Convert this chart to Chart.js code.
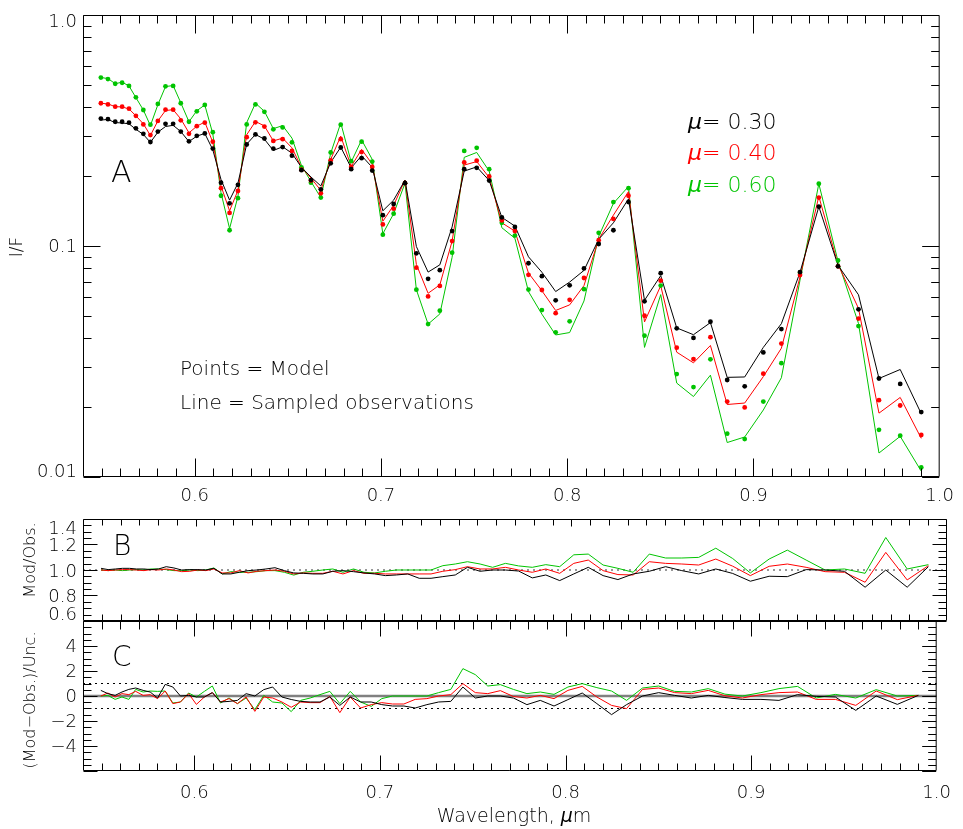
<!DOCTYPE html>
<html>
<head>
<meta charset="utf-8">
<script src="https://cdn.jsdelivr.net/npm/chart.js@4.4.1/dist/chart.umd.min.js"></script>
<style>
  html, body { margin: 0; padding: 0; background: #fff; }
  #wrap { position: relative; width: 963px; height: 829px; overflow: hidden; background: #fff; }
  canvas { position: absolute; left: 0; }
</style>
</head>
<body>
<div id="wrap">
  <canvas id="panelA" width="963" height="520" style="top:0px"></canvas>
  <canvas id="panelB" width="963" height="130" style="top:500px"></canvas>
  <canvas id="panelC" width="963" height="219" style="top:610px"></canvas>
</div>
<script>
// ---- data ----
const wavelength = [0.5496, 0.5534, 0.5573, 0.5610, 0.5647, 0.5684, 0.5724, 0.5762, 0.5802, 0.5843,
  0.5884, 0.5925, 0.5969, 0.6011, 0.6054, 0.6097, 0.6141, 0.6187, 0.6232, 0.6279,
  0.6326, 0.6374, 0.6422, 0.6472, 0.6522, 0.6573, 0.6624, 0.6677, 0.6730, 0.6784,
  0.6840, 0.6896, 0.6953, 0.7010, 0.7068, 0.7129, 0.7190, 0.7253, 0.7316, 0.7382,
  0.7447, 0.7514, 0.7581, 0.7649, 0.7719, 0.7792, 0.7864, 0.7938, 0.8013, 0.8090,
  0.8169, 0.8248, 0.8329, 0.8415, 0.8502, 0.8588, 0.8678, 0.8769, 0.8859, 0.8953,
  0.9053, 0.9150, 0.9250, 0.9351, 0.9454, 0.9564, 0.9674, 0.9788, 0.9901];

// model I/F (points)
const modelMu030 = [0.356, 0.354, 0.345, 0.345, 0.342, 0.323, 0.306, 0.282, 0.313, 0.338,
  0.338, 0.313, 0.284, 0.300, 0.307, 0.264, 0.188, 0.153, 0.184, 0.275,
  0.304, 0.292, 0.264, 0.268, 0.246, 0.213, 0.193, 0.176, 0.228, 0.267,
  0.215, 0.240, 0.212, 0.136, 0.152, 0.187, 0.093, 0.0721, 0.0786, 0.116,
  0.215, 0.218, 0.192, 0.133, 0.121, 0.0842, 0.0740, 0.0582, 0.0676, 0.0800,
  0.102, 0.117, 0.155, 0.0576, 0.0763, 0.0440, 0.0400, 0.0470, 0.0263, 0.0247,
  0.0346, 0.0437, 0.0771, 0.148, 0.0817, 0.0532, 0.0267, 0.0253, 0.0191];
const modelMu040 = [0.415, 0.410, 0.401, 0.401, 0.393, 0.366, 0.336, 0.302, 0.348, 0.389,
  0.389, 0.350, 0.306, 0.330, 0.342, 0.283, 0.178, 0.139, 0.173, 0.296,
  0.343, 0.329, 0.285, 0.290, 0.258, 0.214, 0.192, 0.169, 0.235, 0.290,
  0.220, 0.255, 0.220, 0.124, 0.145, 0.187, 0.0806, 0.0605, 0.0672, 0.105,
  0.230, 0.234, 0.200, 0.129, 0.116, 0.0750, 0.0645, 0.0512, 0.0585, 0.0727,
  0.106, 0.131, 0.165, 0.0499, 0.0708, 0.0363, 0.0324, 0.0403, 0.0212, 0.0200,
  0.0280, 0.0378, 0.0749, 0.162, 0.0817, 0.0485, 0.0215, 0.0204, 0.0152];
const modelMu060 = [0.536, 0.528, 0.504, 0.509, 0.493, 0.440, 0.388, 0.335, 0.412, 0.491,
  0.493, 0.415, 0.345, 0.383, 0.408, 0.311, 0.165, 0.117, 0.161, 0.336,
  0.410, 0.381, 0.320, 0.326, 0.281, 0.219, 0.188, 0.162, 0.254, 0.335,
  0.233, 0.283, 0.232, 0.112, 0.138, 0.187, 0.0647, 0.0459, 0.0525, 0.0936,
  0.258, 0.266, 0.215, 0.126, 0.111, 0.0648, 0.0528, 0.0423, 0.0472, 0.0650,
  0.114, 0.155, 0.178, 0.0409, 0.0674, 0.0279, 0.0245, 0.0323, 0.0154, 0.0146,
  0.0212, 0.0311, 0.0766, 0.186, 0.0866, 0.0450, 0.0160, 0.0151, 0.0110];

// sampled observations I/F (lines)
const obsMu030 = [0.351, 0.353, 0.342, 0.341, 0.338, 0.320, 0.304, 0.281, 0.311, 0.329,
  0.333, 0.313, 0.283, 0.299, 0.307, 0.261, 0.194, 0.158, 0.187, 0.276,
  0.304, 0.290, 0.259, 0.269, 0.252, 0.219, 0.199, 0.182, 0.230, 0.268,
  0.218, 0.246, 0.219, 0.142, 0.158, 0.193, 0.0995, 0.0771, 0.0829, 0.121,
  0.211, 0.220, 0.192, 0.133, 0.122, 0.0898, 0.0770, 0.0635, 0.0698, 0.0784,
  0.107, 0.126, 0.160, 0.0582, 0.0744, 0.0442, 0.0413, 0.0466, 0.0270, 0.0271,
  0.0364, 0.0461, 0.0769, 0.148, 0.0825, 0.0615, 0.0267, 0.0292, 0.0188];
const obsMu040 = [0.415, 0.412, 0.401, 0.400, 0.392, 0.366, 0.338, 0.301, 0.348, 0.386,
  0.389, 0.355, 0.309, 0.330, 0.344, 0.281, 0.182, 0.142, 0.174, 0.303,
  0.346, 0.331, 0.285, 0.293, 0.266, 0.219, 0.197, 0.174, 0.237, 0.299,
  0.221, 0.262, 0.226, 0.128, 0.150, 0.193, 0.0832, 0.0624, 0.0679, 0.105,
  0.224, 0.232, 0.198, 0.126, 0.116, 0.0764, 0.0640, 0.0526, 0.0556, 0.0674,
  0.107, 0.136, 0.172, 0.0469, 0.0673, 0.0347, 0.0312, 0.0371, 0.0206, 0.0209,
  0.0272, 0.0361, 0.0734, 0.164, 0.0832, 0.0537, 0.0189, 0.0221, 0.0147];
const obsMu060 = [0.536, 0.531, 0.504, 0.512, 0.493, 0.439, 0.388, 0.332, 0.409, 0.490,
  0.495, 0.417, 0.345, 0.385, 0.408, 0.306, 0.170, 0.119, 0.164, 0.342,
  0.415, 0.383, 0.322, 0.332, 0.293, 0.223, 0.190, 0.162, 0.252, 0.341,
  0.231, 0.288, 0.237, 0.113, 0.138, 0.187, 0.0647, 0.0459, 0.0508, 0.0894,
  0.242, 0.254, 0.211, 0.120, 0.108, 0.0635, 0.0507, 0.0412, 0.0422, 0.0578,
  0.110, 0.153, 0.181, 0.0364, 0.0616, 0.0255, 0.0223, 0.0276, 0.0141, 0.0149,
  0.0195, 0.0269, 0.0711, 0.186, 0.0859, 0.0462, 0.0127, 0.0150, 0.0106];

// panel B : Mod/Obs.
const ratioMu030 = [1.013, 1.003, 1.008, 1.013, 1.013, 1.008, 1.008, 1.003, 1.008, 1.026,
  1.016, 1.000, 1.003, 1.003, 1.000, 1.013, 0.969, 0.969, 0.982, 0.995,
  1.000, 1.008, 1.018, 0.995, 0.977, 0.974, 0.969, 0.969, 0.990, 0.995,
  0.987, 0.977, 0.969, 0.956, 0.961, 0.969, 0.935, 0.935, 0.948, 0.961,
  1.021, 0.990, 1.000, 1.000, 0.992, 0.938, 0.961, 0.917, 0.969, 1.021,
  0.956, 0.925, 0.969, 0.990, 1.026, 0.995, 0.969, 1.008, 0.973, 0.912,
  0.951, 0.948, 1.003, 1.000, 0.990, 0.865, 1.000, 0.865, 1.026];
const ratioMu040 = [1.000, 0.995, 1.000, 1.003, 1.003, 1.000, 0.995, 1.003, 1.000, 1.008,
  1.000, 0.987, 0.990, 1.000, 0.995, 1.008, 0.977, 0.977, 0.995, 0.977,
  0.990, 0.995, 1.000, 0.990, 0.969, 0.977, 0.974, 0.974, 0.990, 0.969,
  0.995, 0.974, 0.974, 0.969, 0.969, 0.969, 0.969, 0.969, 0.990, 1.003,
  1.026, 1.008, 1.008, 1.021, 1.000, 0.982, 1.008, 0.974, 1.052, 1.078,
  0.995, 0.964, 0.961, 1.065, 1.052, 1.047, 1.039, 1.086, 1.030, 0.956,
  1.029, 1.047, 1.021, 0.987, 0.982, 0.904, 1.138, 0.922, 1.034];
const ratioMu060 = [1.000, 0.995, 1.000, 0.995, 1.000, 1.003, 1.000, 1.008, 1.008, 1.003,
  0.995, 0.995, 1.000, 0.995, 1.000, 1.016, 0.969, 0.987, 0.982, 0.982,
  0.987, 0.995, 0.995, 0.982, 0.960, 0.982, 0.990, 1.000, 1.008, 0.982,
  1.008, 0.982, 0.977, 0.990, 1.000, 1.000, 1.000, 1.000, 1.034, 1.047,
  1.065, 1.047, 1.021, 1.052, 1.032, 1.021, 1.042, 1.026, 1.119, 1.125,
  1.039, 1.013, 0.982, 1.125, 1.094, 1.094, 1.099, 1.171, 1.090, 0.977,
  1.086, 1.156, 1.078, 1.000, 1.008, 0.974, 1.255, 1.008, 1.042];

// panel C : (Mod-Obs.)/Unc.
const residMu030 = [0.45, 0.19, 0.05, 0.32, 0.53, 0.64, 0.45, 0.32, -0.16, 0.93,
  0.72, 0.00, 0.05, -0.08, -0.08, 0.27, -0.48, -0.43, -0.35, 0.19,
  0.00, 0.51, 0.72, -0.08, -0.28, -0.43, -0.48, -0.48, -0.08, -0.75,
  -0.08, -0.48, -0.48, -0.69, -0.80, -0.80, -0.96, -0.69, -0.48, -0.43,
  0.72, -0.16, 0.00, 0.00, -0.16, -0.69, -0.35, -0.80, -0.29, 0.24,
  -0.61, -1.49, -0.69, 0.00, 0.27, 0.05, -0.16, 0.05, -0.12, -0.27,
  -0.27, -0.35, 0.11, -0.03, -0.08, -1.15, 0.00, -0.67, 0.05];
const residMu040 = [0.00, 0.24, -0.08, 0.19, 0.11, 0.37, 0.05, 0.11, -0.21, 0.40,
  -0.61, -0.48, 0.19, -0.67, -0.08, 0.27, -0.48, -0.21, -0.61, -0.08,
  -1.23, -0.08, -0.16, -0.48, -0.90, -0.48, -0.53, -0.53, -0.03, -1.33,
  -0.08, -0.96, -0.69, -0.53, -0.64, -0.64, -0.27, -0.21, 0.00, 0.11,
  0.99, 0.27, 0.19, 0.43, -0.04, -0.16, 0.05, -0.21, 0.45, 0.77,
  -0.08, -0.75, -1.01, 0.53, 0.64, 0.27, 0.19, 0.45, 0.02, -0.16,
  0.11, 0.27, 0.32, -0.27, -0.27, -0.75, 0.40, -0.29, 0.05];
const residMu060 = [0.00, 0.05, -0.27, -0.08, -0.27, 0.53, 0.32, 0.40, 0.37, 0.40,
  -0.56, -0.48, 0.24, -0.08, 0.37, 0.80, -0.56, -0.16, -0.61, -0.16,
  -1.09, 0.05, -0.48, -0.56, -1.25, -0.35, -0.16, 0.11, 0.37, -0.61,
  0.37, -0.48, -0.83, -0.21, 0.00, 0.00, 0.00, 0.00, 0.27, 0.53,
  2.19, 1.71, 0.80, 0.91, 0.53, 0.19, 0.32, 0.13, 0.72, 0.99,
  0.67, 0.40, -0.35, 0.64, 0.80, 0.37, 0.32, 0.59, 0.15, 0.00,
  0.27, 0.59, 0.77, -0.16, 0.13, -0.16, 0.51, 0.00, 0.05];

// axes and labels
const xMin = 0.54, xMax = 1.0;
const xTickValues = [0.6, 0.7, 0.8, 0.9, 1.0];
const yTicksA = [1.0, 0.1, 0.01];
const yTickTextA = ['1.0', '0.1', '0.01'];
const yTicksB = [1.4, 1.2, 1.0, 0.8, 0.6];
const yTicksC = [4, 2, 0, -2, -4];
const muValues = ['0.30', '0.40', '0.60'];
const ratioRef = 1.0;
const residRef = 0;
const residBand = [1, -1];

// ---- styling ----
const BLACK = '#000000', RED = '#ff0000', GREEN = '#00c400';
const COLORS = [BLACK, RED, GREEN];
const FAMILY = "'DejaVu Sans', 'Liberation Sans', sans-serif";
const fnt = (size, style) => `${style || 'normal'} 200 ${size}px ${FAMILY}`;

const pairs = ys => wavelength.map((w, i) => ({ x: w, y: ys[i] }));
const flat = v => [{ x: xMin, y: v }, { x: xMax, y: v }];

function drawRich(ctx, segs, x, y, size, color, align) {
    ctx.fillStyle = color;
    ctx.textBaseline = 'middle';
    ctx.textAlign = 'left';
    let total = 0;
    segs.forEach(s => { ctx.font = fnt(size, s.it ? 'italic' : 'normal'); total += ctx.measureText(s.t).width; });
    let cx = align === 'center' ? x - total / 2 : x;
    segs.forEach(s => {
        ctx.font = fnt(size, s.it ? 'italic' : 'normal');
        ctx.fillText(s.t, cx, y);
        cx += ctx.measureText(s.t).width;
    });
}

function drawRotated(ctx, text, x, y, size) {
    ctx.save();
    ctx.translate(x, y);
    ctx.rotate(-Math.PI / 2);
    ctx.font = fnt(size);
    ctx.fillStyle = '#000';
    ctx.textAlign = 'center';
    ctx.textBaseline = 'middle';
    ctx.fillText(text, 0, 0);
    ctx.restore();
}

// frame, inward ticks on all four sides, y labels and annotations
function makeDecor(cfg) {
    return {
        id: 'decor',
        afterDatasetsDraw(chart) {
            const { ctx, chartArea: a, scales } = chart;
            const xs = scales.x, ys = scales.y;
            const L = a.left + 0.5, R = a.right - 0.5, T = a.top + 0.5, B = a.bottom - 0.5;
            ctx.save();
            ctx.strokeStyle = '#000';
            ctx.lineWidth = 1;
            ctx.beginPath();
            ctx.rect(L, T, R - L, B - T);
            for (let k = 55; k < 100; k++) {
                const px = Math.round(xs.getPixelForValue(k / 100)) + 0.5;
                const major = k % 10 === 0;
                ctx.moveTo(px, B); ctx.lineTo(px, B - (major ? cfg.xBotMajor : cfg.xBotMinor));
                ctx.moveTo(px, T); ctx.lineTo(px, T + (major ? cfg.xTopMajor : cfg.xTopMinor));
            }
            cfg.yTicks.forEach(t => {
                const py = Math.round(ys.getPixelForValue(t.v)) + 0.5;
                const len = t.major ? cfg.yMajor : cfg.yMinor;
                ctx.moveTo(L, py); ctx.lineTo(L + len, py);
                ctx.moveTo(R, py); ctx.lineTo(R - len, py);
            });
            ctx.stroke();

            ctx.fillStyle = '#000';
            ctx.font = fnt(18);
            ctx.textAlign = 'right';
            ctx.textBaseline = 'middle';
            cfg.yLabels.forEach(l => {
                ctx.fillText(l.t, a.left - 6, ys.getPixelForValue(l.v) + l.dy);
            });
            if (cfg.extra) cfg.extra(ctx, cfg.top);
            ctx.restore();
        }
    };
}

function logTicks() {
    const out = [];
    [0.01, 0.1].forEach(d => { for (let m = 1; m <= 9; m++) out.push({ v: m * d, major: m === 1 }); });
    out.push({ v: 1, major: true });
    return out;
}
function linTicks(lo, hi, step, every) {
    const out = [];
    const n = Math.round((hi - lo) / step);
    for (let k = 0; k <= n; k++) out.push({ v: lo + k * step, major: k % every === 0 });
    return out;
}

function baseOptions(yScale, xHeight, showX, xPad, padding) {
    return {
        responsive: false,
        animation: false,
        devicePixelRatio: 1,
        layout: { padding },
        plugins: { legend: { display: false }, tooltip: { enabled: false } },
        scales: {
            x: {
                type: 'linear', min: xMin, max: xMax,
                grid: { display: false, drawTicks: false },
                border: { display: false },
                afterBuildTicks: s => { s.ticks = xTickValues.map(v => ({ value: v })); },
                ticks: {
                    display: showX, padding: xPad, autoSkip: false, maxRotation: 0,
                    color: '#000', font: { family: FAMILY, size: 18, weight: '200' },
                    callback: v => Number(v).toFixed(1)
                },
                afterFit: s => { s.height = xHeight; }
            },
            y: Object.assign({
                grid: { display: false, drawTicks: false },
                border: { display: false },
                ticks: { display: false },
                afterFit: s => { s.width = 83; }
            }, yScale)
        }
    };
}

// ---- panel A ----
const modelSets = [modelMu030, modelMu040, modelMu060];
const obsSets = [obsMu030, obsMu040, obsMu060];
const dsA = [];
modelSets.forEach((m, i) => dsA.push({
    data: pairs(m), showLine: false, pointRadius: 2.4, pointBorderWidth: 0,
    pointBackgroundColor: COLORS[i], order: 0
}));
obsSets.forEach((o, i) => dsA.push({
    data: pairs(o), borderColor: COLORS[i], borderWidth: 1, pointRadius: 0, order: 1
}));

new Chart(document.getElementById('panelA'), {
    type: 'line',
    data: { datasets: dsA },
    options: baseOptions({ type: 'logarithmic', min: 0.01, max: 1 }, 43, true, 9,
        { top: 15, right: 16, left: 0, bottom: 0 }),
    plugins: [makeDecor({
        top: 0,
        xTopMajor: 18, xTopMinor: 8, xBotMajor: 18, xBotMinor: 8, yMajor: 17, yMinor: 8,
        yTicks: logTicks(),
        yLabels: yTicksA.map((v, i) => ({ v, t: yTickTextA[i], dy: [7, 1, -5][i] })),
        extra(ctx) {
            muValues.forEach((mv, i) => {
                drawRich(ctx, [{ t: 'μ', it: true }, { t: '= ' }, { t: mv }], 688, 123 + i * 31.7, 22, COLORS[i]);
            });
            ctx.fillStyle = '#000';
            ctx.textAlign = 'left';
            ctx.textBaseline = 'middle';
            ctx.font = fnt(30);
            ctx.fillText('A', 111, 174);
            ctx.font = fnt(20);
            ctx.fillText('Points = Model', 180, 370);
            ctx.fillText('Line = Sampled observations', 180, 404);
            drawRotated(ctx, 'I/F', 18, 247, 17);
        }
    })]
});

// ---- panel B ----
const ratioSets = [ratioMu030, ratioMu040, ratioMu060];
const dsB = ratioSets.map((r, i) => ({
    data: pairs(r), borderColor: COLORS[i], borderWidth: 1, pointRadius: 0, order: 0
}));
dsB.push({ data: flat(ratioRef), borderColor: '#777', borderWidth: 1.5, borderDash: [2, 4], pointRadius: 0, order: 5 });

new Chart(document.getElementById('panelB'), {
    type: 'line',
    data: { datasets: dsB },
    options: baseOptions({ type: 'linear', min: 0.6, max: 1.4 }, 0, false, 0,
        { top: 19, right: 16, left: 0, bottom: 9 }),
    plugins: [makeDecor({
        top: 500,
        xTopMajor: 7, xTopMinor: 6, xBotMajor: 7, xBotMinor: 6, yMajor: 14, yMinor: 8,
        yTicks: linTicks(0.6, 1.4, 0.05, 4),
        yLabels: yTicksB.map((v, i) => ({ v, t: v.toFixed(1), dy: [10, 2, 2, 2, -6][i] })),
        extra(ctx) {
            ctx.fillStyle = '#000';
            ctx.textAlign = 'left';
            ctx.textBaseline = 'middle';
            ctx.font = fnt(28);
            ctx.fillText('B', 113, 48);
            drawRotated(ctx, 'Mod/Obs.', 31, 60, 16);
        }
    })]
});

// ---- panel C ----
const residSets = [residMu030, residMu040, residMu060];
const dsC = residSets.map((r, i) => ({
    data: pairs(r), borderColor: COLORS[i], borderWidth: 1, pointRadius: 0, order: 0
}));
dsC.push({ data: flat(residRef), borderColor: '#808080', borderWidth: 2.5, pointRadius: 0, order: 6 });
residBand.forEach(b => dsC.push({
    data: flat(b), borderColor: '#000', borderWidth: 1, borderDash: [2, 4], pointRadius: 0, order: 5
}));

new Chart(document.getElementById('panelC'), {
    type: 'line',
    data: { datasets: dsC },
    options: baseOptions({ type: 'linear', min: -6, max: 6 }, 58, true, 12,
        { top: 11, right: 16, left: 0, bottom: 0 }),
    plugins: [makeDecor({
        top: 610,
        xTopMajor: 15, xTopMinor: 8, xBotMajor: 15, xBotMinor: 7, yMajor: 14, yMinor: 8,
        yTicks: linTicks(-6, 6, 0.5, 4),
        yLabels: yTicksC.map(v => ({ v, t: v < 0 ? '−' + Math.abs(v) : String(v), dy: 1 })),
        extra(ctx) {
            ctx.fillStyle = '#000';
            ctx.textAlign = 'left';
            ctx.textBaseline = 'middle';
            ctx.font = fnt(28);
            ctx.fillText('C', 112, 49);
            drawRotated(ctx, '(Mod−Obs.)/Unc.', 31, 90, 16);
            drawRich(ctx, [{ t: 'Wavelength, ' }, { t: 'μ', it: true }, { t: 'm' }], 514, 207, 19, '#000', 'center');
        }
    })]
});
</script>
</body>
</html>
